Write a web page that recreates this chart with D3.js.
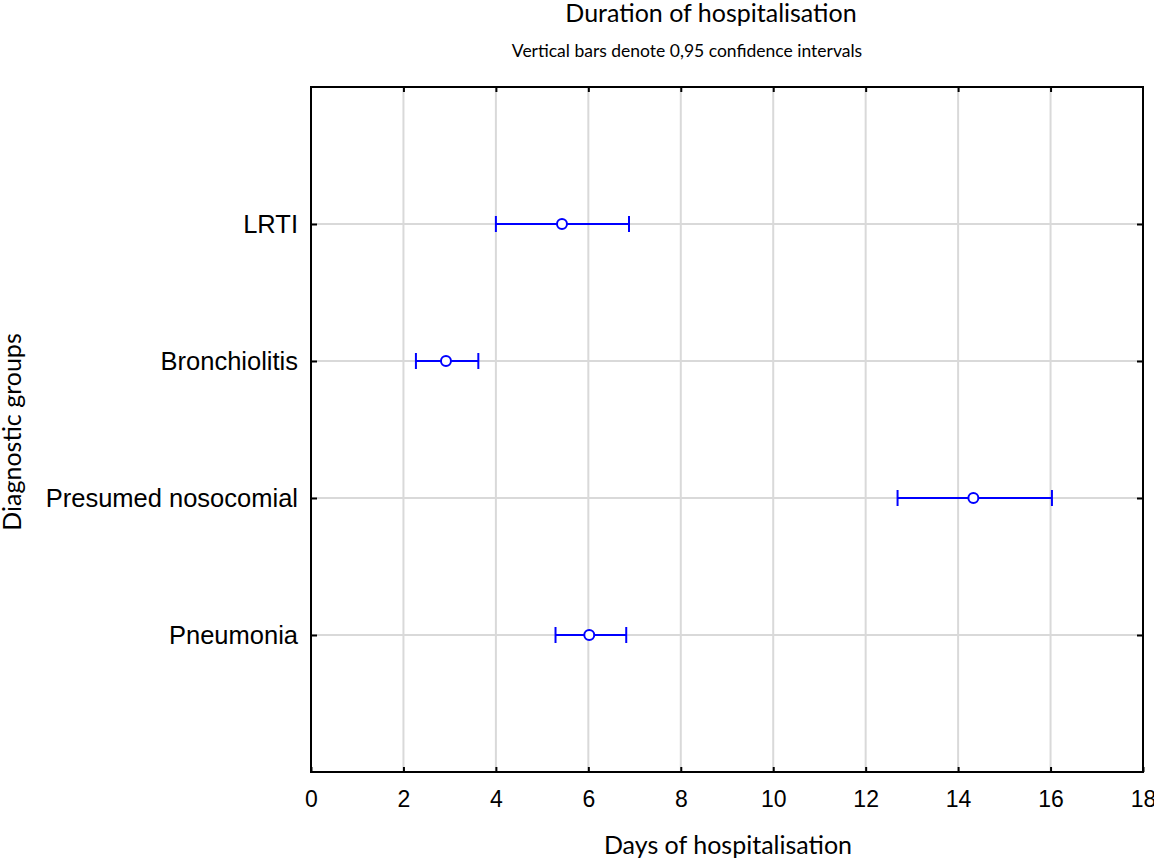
<!DOCTYPE html>
<html>
<head>
<meta charset="utf-8">
<script src="https://d3js.org/d3.v7.min.js"></script>
<style>
  body { margin: 0; background: #fff; }
  .lbl { font-family: "Liberation Sans", Arial, sans-serif; }
  .ttl { font-family: Lato, "Open Sans", sans-serif; }
</style>
</head>
<body>
<svg width="1154" height="860"></svg>
<script>
// data
var groups = ["LRTI", "Bronchiolitis", "Presumed nosocomial", "Pneumonia"];
var means  = [5.43, 2.92, 14.33, 6.02];
var lower  = [4.00, 2.27, 12.69, 5.29];
var upper  = [6.88, 3.62, 16.03, 6.82];
var xTicks = [0, 2, 4, 6, 8, 10, 12, 14, 16, 18];

var margin = {top: 87, right: 11, bottom: 88, left: 311},
    width = 1154 - margin.left - margin.right,
    height = 860 - margin.top - margin.bottom;

var svg = d3.select("svg");
var g = svg.append("g")
    .attr("transform", "translate(" + margin.left + "," + margin.top + ")");

var x = d3.scaleLinear().domain([0, 18]).range([0, width]);
// five equal slots, groups sit on the inner four boundaries
var y = d3.scalePoint().domain(groups).range([0, height]).padding(1);

// grid
g.selectAll(".vgrid").data(xTicks.slice(1, -1)).enter().append("line")
    .attr("x1", function(d) { return x(d); }).attr("x2", function(d) { return x(d); })
    .attr("y1", 0).attr("y2", height)
    .attr("stroke", "#d9d9d9").attr("stroke-width", 2);
g.selectAll(".hgrid").data(groups).enter().append("line")
    .attr("x1", 0).attr("x2", width)
    .attr("y1", function(d) { return y(d); }).attr("y2", function(d) { return y(d); })
    .attr("stroke", "#d9d9d9").attr("stroke-width", 2);

// bottom axis
var xAxis = g.append("g")
    .attr("transform", "translate(0," + height + ")")
    .call(d3.axisBottom(x).tickValues(xTicks).tickSizeInner(-5).tickSizeOuter(0).tickPadding(19));
xAxis.select(".domain").remove();
xAxis.selectAll("line").attr("stroke", "#000").attr("stroke-width", 2);
xAxis.selectAll("text").attr("class", "lbl").attr("font-size", 23).attr("fill", "#000");

// top ticks
var topAxis = g.append("g")
    .call(d3.axisTop(x).tickValues(xTicks.slice(1, -1)).tickSizeInner(-5).tickSizeOuter(0).tickFormat(""));
topAxis.select(".domain").remove();
topAxis.selectAll("line").attr("stroke", "#000").attr("stroke-width", 2);

// left axis
var yAxis = g.append("g")
    .call(d3.axisLeft(y).tickSizeInner(-6).tickSizeOuter(0).tickPadding(13));
yAxis.select(".domain").remove();
yAxis.selectAll("line").attr("stroke", "#000").attr("stroke-width", 2);
yAxis.selectAll("text").attr("class", "lbl").attr("font-size", 25.5).attr("fill", "#000");

// right ticks
var rAxis = g.append("g")
    .attr("transform", "translate(" + width + ",0)")
    .call(d3.axisRight(y).tickSizeInner(-6).tickSizeOuter(0).tickFormat(""));
rAxis.select(".domain").remove();
rAxis.selectAll("line").attr("stroke", "#000").attr("stroke-width", 2);

// frame
g.append("rect")
    .attr("x", 0).attr("y", 0).attr("width", width).attr("height", height)
    .attr("fill", "none").attr("stroke", "#000").attr("stroke-width", 2);

// error bars
var rows = groups.map(function(k, i) { return {k: k, m: means[i], lo: lower[i], hi: upper[i]}; });
var eb = g.selectAll(".eb").data(rows).enter().append("g");
eb.append("line")
    .attr("x1", function(d) { return x(d.lo); }).attr("x2", function(d) { return x(d.hi); })
    .attr("y1", function(d) { return y(d.k); }).attr("y2", function(d) { return y(d.k); })
    .attr("stroke", "#0000ff").attr("stroke-width", 2);
["lo", "hi"].forEach(function(end) {
  eb.append("line")
    .attr("x1", function(d) { return x(d[end]); }).attr("x2", function(d) { return x(d[end]); })
    .attr("y1", function(d) { return y(d.k) - 8; }).attr("y2", function(d) { return y(d.k) + 8; })
    .attr("stroke", "#0000ff").attr("stroke-width", 2);
});
eb.append("circle")
    .attr("cx", function(d) { return x(d.m); }).attr("cy", function(d) { return y(d.k); })
    .attr("r", 5).attr("fill", "#fff").attr("stroke", "#0000ff").attr("stroke-width", 2);

// titles
svg.append("text").attr("class", "ttl").attr("x", 711).attr("y", 22)
    .attr("text-anchor", "middle").attr("font-size", 25).text("Duration of hospitalisation");
svg.append("text").attr("class", "ttl").attr("x", 687).attr("y", 57)
    .attr("text-anchor", "middle").attr("font-size", 17.5).text("Vertical bars denote 0,95 confidence intervals");
svg.append("text").attr("class", "ttl").attr("x", 728).attr("y", 854)
    .attr("text-anchor", "middle").attr("font-size", 25).text("Days of hospitalisation");
svg.append("text").attr("class", "ttl")
    .attr("transform", "translate(21,432) rotate(-90)")
    .attr("text-anchor", "middle").attr("font-size", 25).text("Diagnostic groups");
</script>
</body>
</html>
